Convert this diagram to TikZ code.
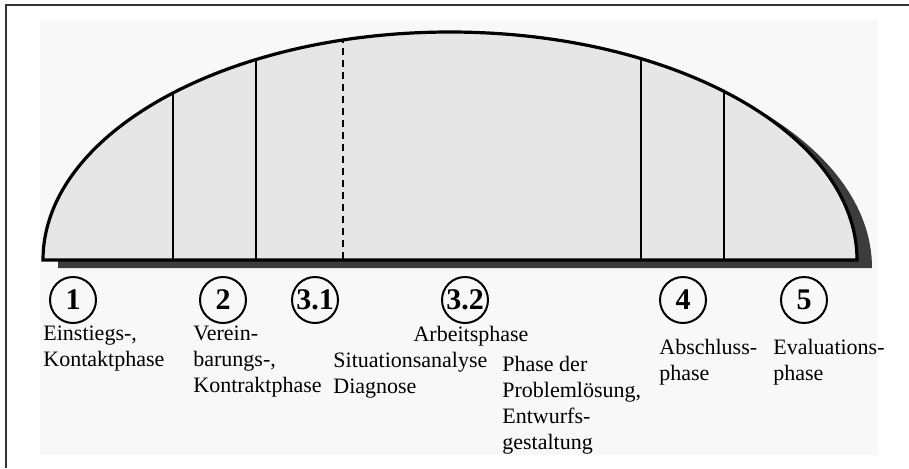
\documentclass[tikz,border=0pt]{standalone}
\usepackage{fontspec}
\setmainfont{Liberation Serif}
\usepackage{tikz}
\definecolor{bogen}{HTML}{E6E6E6}
\definecolor{schatten}{HTML}{3C3C3C}
\definecolor{rahmen}{HTML}{333333}
\definecolor{papier}{HTML}{F8F8F8}
\tikzset{
  phasenr/.style={draw,circle,line width=1pt,minimum size=23pt,inner sep=0pt,font=\fontsize{15}{15}\selectfont\bfseries},
  phasetxt/.style={anchor=north west,align=left,inner sep=0pt,font=\fontsize{11}{13}\selectfont},
  trenn/.style={line width=1pt},
  bogenlinie/.style={line width=1.6pt,line join=miter},
}
\def\bogenpfad{(43,260) arc[start angle=180,end angle=360,x radius=407,y radius=228] -- cycle}

\begin{document}
\begin{tikzpicture}[x=0.5pt,y=-0.5pt]
  \useasboundingbox (0,0) rectangle (909,468);
  \fill[papier] (40,20) rectangle (878,455);
  \draw[rahmen,line width=1pt] (5.5,468)--(5.5,4.5)--(909,4.5);
  % Bogen mit Schatten
  \fill[schatten,shift={(15,8)}] \bogenpfad;
  \fill[bogen] \bogenpfad;
  \begin{scope}
    \clip \bogenpfad;
    \foreach \x in {173,256,641,724}
      \draw[trenn] (\x,0)--(\x,260);
    \draw[trenn,dash pattern=on 3.5pt off 2.5pt] (343,0)--(343,260);
  \end{scope}
  \draw[bogenlinie] \bogenpfad;
  % Phasen
  \node[phasenr] (p1) at (73,300) {1};
  \node[phasenr] (p2) at (223,300) {2};
  \node[phasenr] (p31) at (315,300) {3.1};
  \node[phasenr] (p32) at (465,300) {3.2};
  \node[phasenr] (p4) at (683,300) {4};
  \node[phasenr] (p5) at (804,300) {5};
  \node[phasetxt] (t1) at (43,326) {Einstiegs-,\\Kontaktphase};
  \node[phasetxt] (t2) at (193,326) {Verein-\\barungs-,\\Kontraktphase};
  \node[phasetxt,anchor=north] (t3) at (471,326) {Arbeitsphase};
  \node[phasetxt] (t31) at (333,352) {Situationsanalyse\\Diagnose};
  \node[phasetxt] (t32) at (502,356) {Phase der\\Problemlösung,\\Entwurfs-\\gestaltung};
  \node[phasetxt] (t4) at (659,339) {Abschluss-\\phase};
  \node[phasetxt] (t5) at (773,339) {Evaluations-\\phase};
\end{tikzpicture}
\end{document}
